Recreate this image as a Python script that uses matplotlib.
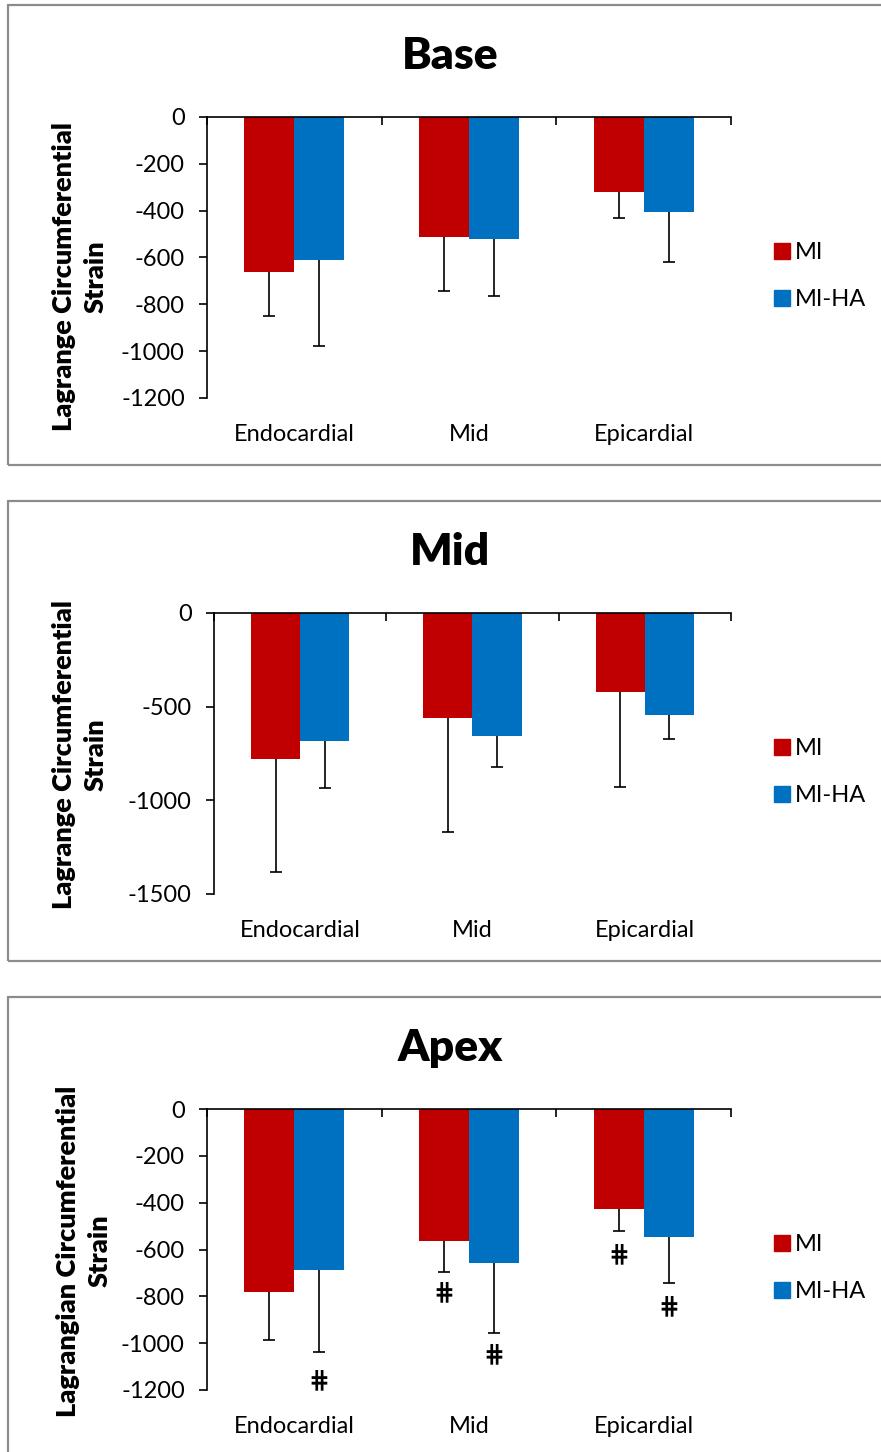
"""
strain bar charts - base / mid / apex, MI vs MI-HA
"""

import numpy as np
import matplotlib
matplotlib.use("Agg")
import matplotlib.pyplot as plt
from matplotlib.patches import Rectangle, Patch

plt.rcParams['font.family'] = ['Lato', 'DejaVu Sans']
plt.rcParams['axes.unicode_minus'] = False

W, H = 881, 1452

categories = ["Endocardial", "Mid", "Epicardial"]
series = ["MI", "MI-HA"]
colors = ["#C00000", "#0070C0"]

titles = ["Base", "Mid", "Apex"]
ylabels = ["Lagrange Circumferential\nStrain",
           "Lagrange Circumferential\nStrain",
           "Lagrangian Circumferential\nStrain"]

# means
base_mi = [-663, -512, -319]
base_ha = [-611, -521, -404]
mid_mi = [-781, -562, -423]
mid_ha = [-685, -655, -545]
apex_mi = [-783, -565, -425]
apex_ha = [-687, -658, -545]

# one-sided (downward) error bars
base_mi_sd = [185, 231, 113]
base_ha_sd = [367, 245, 214]
mid_mi_sd = [603, 607, 508]
mid_ha_sd = [251, 169, 126]
apex_mi_sd = [202, 130, 98]
apex_ha_sd = [351, 299, 200]

# y axis ticks per panel
base_ticks = [0, -200, -400, -600, -800, -1000, -1200]
mid_ticks = [0, -500, -1000, -1500]
apex_ticks = [0, -200, -400, -600, -800, -1000, -1200]

# significance marks in the apex panel: category index, series index, y value
hash_cat = [0, 1, 1, 2, 2]
hash_ser = [1, 0, 1, 0, 1]
hash_y = [-1160, -783, -1048, -621, -843]

panels = [
    (base_mi, base_ha, base_mi_sd, base_ha_sd, base_ticks),
    (mid_mi, mid_ha, mid_mi_sd, mid_ha_sd, mid_ticks),
    (apex_mi, apex_ha, apex_mi_sd, apex_ha_sd, apex_ticks),
]

# layout in pixels: axes left, top, right, bottom
ax_px = [(207, 117, 731, 398), (214, 613, 731, 894), (207, 1109, 731, 1390)]
box_top = [5, 501, 997]
ylab_x = [80, 80, 84]
ylab_y = [277, 755, 1251]


def fx(px):
    return px / W


def fy(py):
    return 1 - py / H


def down_errorbar(ax, xs, vals, sd):
    # only the lower whisker + cap, no cap at the bar end
    eb = ax.errorbar(xs, vals, yerr=[sd, np.zeros(len(sd))], fmt='none',
                     ecolor='black', elinewidth=1.2, capsize=4, capthick=1.2, zorder=3)
    for cl in eb[1]:
        if np.allclose(cl.get_ydata(), vals):
            cl.remove()


fig = plt.figure(figsize=(W / 100, H / 100), dpi=100)

bw = 0.286
for i, (mi, ha, mi_sd, ha_sd, ticks) in enumerate(panels):
    # grey frame around each chart
    bt = box_top[i]
    fig.patches.append(Rectangle((fx(8), fy(bt + 460)), fx(900), 460 / H,
                                 transform=fig.transFigure, fill=False,
                                 edgecolor="#8c8c8c", lw=1.6, zorder=0))

    l, t, r, b = ax_px[i]
    ax = fig.add_axes([fx(l), fy(b), fx(r - l), (b - t) / H])
    x = np.arange(len(categories))

    ax.bar(x - bw / 2, mi, bw, color=colors[0], label=series[0], zorder=2)
    ax.bar(x + bw / 2, ha, bw, color=colors[1], label=series[1], zorder=2)
    down_errorbar(ax, x - bw / 2, mi, mi_sd)
    down_errorbar(ax, x + bw / 2, ha, ha_sd)

    ax.set_xlim(-0.5, 2.5)
    ax.set_ylim(ticks[-1], 0)
    ax.set_yticks(ticks)
    ax.set_yticklabels([str(v) for v in ticks])
    ax.set_xticks(x)
    ax.set_xticklabels(categories)
    ax.set_xticks([-0.5, 0.5, 1.5, 2.5], minor=True)

    for s in ['bottom', 'right']:
        ax.spines[s].set_visible(False)
    for s in ['top', 'left']:
        ax.spines[s].set_linewidth(1.2)
        ax.spines[s].set_zorder(4)

    ax.tick_params(axis='y', direction='out', length=6, width=1.2,
                   labelsize=17, pad=10)
    ax.tick_params(axis='x', which='major', length=0, labelsize=17, pad=19)
    ax.tick_params(axis='x', which='minor', bottom=False, top=True,
                   direction='in', length=6, width=1.2)

    fig.text(fx(450), fy(bt + 51), titles[i], fontsize=32, fontweight='heavy',
             ha='center', va='center')
    fig.text(fx(ylab_x[i]), fy(ylab_y[i]),
             ylabels[i], rotation=90, fontsize=19.5, fontweight='heavy',
             ha='center', va='center', linespacing=1.35)

    handles = [Patch(color=c) for c in colors]
    ax.legend(handles, series, loc='center left',
              bbox_to_anchor=(fx(765), fy(t + 159)), bbox_transform=fig.transFigure,
              frameon=False, fontsize=17, handlelength=0.65, handleheight=0.65,
              handletextpad=0.22, labelspacing=1.1, borderaxespad=0)

    if i == 2:
        for c, s, yv in zip(hash_cat, hash_ser, hash_y):
            xp = c - bw / 2 if s == 0 else c + bw / 2
            ax.text(xp, yv, "\u22d5", fontsize=18, fontweight='bold',
                    ha='center', va='center', family=['DejaVu Sans'],
                    clip_on=False, zorder=5)

fig.savefig("out.png", dpi=100)
